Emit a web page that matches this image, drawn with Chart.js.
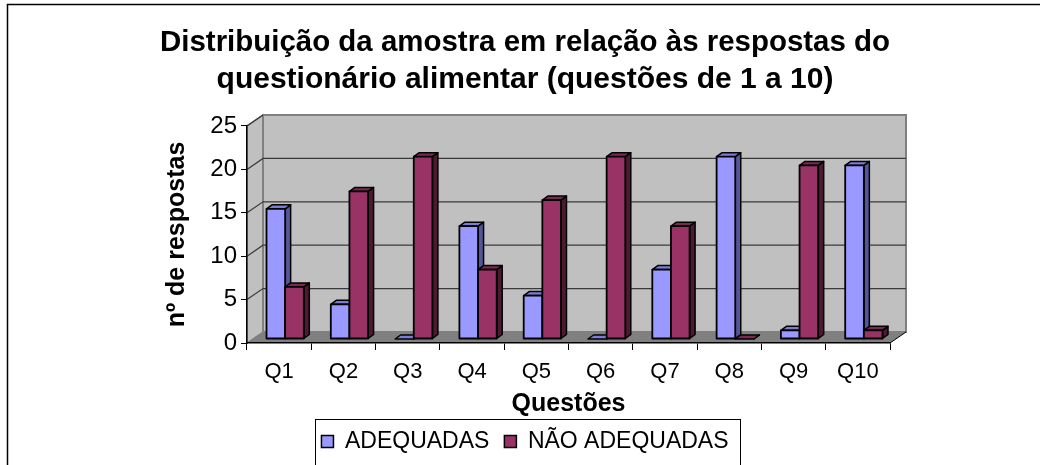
<!DOCTYPE html>
<html>
<head>
<meta charset="utf-8">
<script src="https://cdn.jsdelivr.net/npm/chart.js@4"></script>
<style>
  html, body { margin: 0; padding: 0; background: #fff; }
  #wrap { width: 1040px; height: 465px; }
</style>
</head>
<body>
<div id="wrap"><canvas id="myChart" width="1040" height="465"></canvas></div>
<script>
// chart data
var questions = ['Q1', 'Q2', 'Q3', 'Q4', 'Q5', 'Q6', 'Q7', 'Q8', 'Q9', 'Q10'];
var adequadas = [15, 4, 0, 13, 5, 0, 8, 21, 1, 20];
var naoAdequadas = [6, 17, 21, 8, 16, 21, 13, 0, 20, 1];
var yTicks = [0, 5, 10, 15, 20, 25];

var seriesNames = ['ADEQUADAS', 'NÃO ADEQUADAS'];
var frontColors = ['#9999FF', '#993366'];
var sideColors = ['#555599', '#4D1A33'];
var topColors = ['#7C7CD6', '#7A2952'];

// depth of the walls and of the bars (3D look)
var wallDX = 16, wallDY = -11;
var barShiftX = 6, barShiftY = -4;
var barDX = 5.5, barDY = -4;

function poly(ctx, pts, fill, stroke, lw) {
    ctx.beginPath();
    ctx.moveTo(pts[0][0], pts[0][1]);
    for (var i = 1; i < pts.length; i++) ctx.lineTo(pts[i][0], pts[i][1]);
    ctx.closePath();
    if (fill) { ctx.fillStyle = fill; ctx.fill(); }
    if (stroke) { ctx.strokeStyle = stroke; ctx.lineWidth = lw || 1; ctx.stroke(); }
}

var wallsPlugin = {
    id: 'walls',
    beforeDraw: function (chart) {
        var ctx = chart.ctx;
        var a = chart.chartArea;
        var yScale = chart.scales.y;
        ctx.save();
        ctx.fillStyle = '#fff';
        ctx.fillRect(0, 0, chart.width, chart.height);

        // outer frame
        ctx.strokeStyle = '#000';
        ctx.lineWidth = 1.5;
        ctx.strokeRect(7.5, 4.5, chart.width + 20, chart.height + 20);

        // left wall
        poly(ctx, [[a.left, a.top], [a.left + wallDX, a.top + wallDY], [a.left + wallDX, a.bottom + wallDY], [a.left, a.bottom]], '#C0C0C0', '#808080', 1.5);
        // back wall
        poly(ctx, [[a.left + wallDX, a.top + wallDY], [a.right + wallDX, a.top + wallDY], [a.right + wallDX, a.bottom + wallDY], [a.left + wallDX, a.bottom + wallDY]], '#C0C0C0', '#808080', 2);
        // floor
        poly(ctx, [[a.left, a.bottom], [a.right, a.bottom], [a.right + wallDX, a.bottom + wallDY], [a.left + wallDX, a.bottom + wallDY]], '#808080', null);

        // grid lines on left and back walls
        ctx.strokeStyle = '#3A3A3A';
        ctx.lineWidth = 1.2;
        yTicks.forEach(function (v) {
            if (v === 0) return;
            var y = yScale.getPixelForValue(v);
            ctx.beginPath();
            ctx.moveTo(a.left, y);
            ctx.lineTo(a.left + wallDX, y + wallDY);
            if (v !== yTicks[yTicks.length - 1]) ctx.lineTo(a.right + wallDX, y + wallDY);
            ctx.stroke();
        });
        // right edge of the floor
        ctx.strokeStyle = '#000';
        ctx.lineWidth = 1;
        ctx.beginPath();
        ctx.moveTo(a.right, a.bottom);
        ctx.lineTo(a.right + wallDX, a.bottom + wallDY);
        ctx.stroke();
        ctx.restore();
    },
    beforeDatasetsDraw: function (chart) {
        chart.ctx.save();
        chart.ctx.translate(barShiftX, barShiftY);
    },
    afterDatasetsDraw: function (chart) {
        var ctx = chart.ctx;
        ctx.lineJoin = 'round';
        chart.data.datasets.forEach(function (ds, di) {
            var meta = chart.getDatasetMeta(di);
            meta.data.forEach(function (bar) {
                var p = bar.getProps(['x', 'y', 'base', 'width'], true);
                var l = p.x - p.width / 2, r = p.x + p.width / 2;
                // side face
                poly(ctx, [[r, p.y], [r + barDX, p.y + barDY], [r + barDX, p.base + barDY], [r, p.base]], sideColors[di], '#000', 1.5);
                // top face
                poly(ctx, [[l, p.y], [l + barDX, p.y + barDY], [r + barDX, p.y + barDY], [r, p.y]], topColors[di], '#000', 1.5);
                // front face
                if (p.base - p.y > 0.5) {
                    poly(ctx, [[l, p.y], [r, p.y], [r, p.base], [l, p.base]], frontColors[di], '#000', 1.8);
                }
            });
        });
        ctx.restore();
    },
    afterDraw: function (chart) {
        // border around the legend
        var lg = chart.legend;
        var boxes = lg.legendHitBoxes;
        if (!boxes || !boxes.length) return;
        var first = boxes[0], last = boxes[boxes.length - 1];
        var ctx = chart.ctx;
        ctx.save();
        ctx.strokeStyle = '#000';
        ctx.lineWidth = 1;
        ctx.strokeRect(Math.round(first.left - 6) + 0.5, Math.round(first.top - 11) + 0.5,
            Math.round(last.left + last.width - first.left + 18), 80);
        ctx.restore();
    }
};

var ctx = document.getElementById('myChart').getContext('2d');
var myChart = new Chart(ctx, {
    type: 'bar',
    data: {
        labels: questions,
        datasets: [{
            label: seriesNames[0],
            data: adequadas,
            backgroundColor: frontColors[0],
            borderColor: '#000',
            borderWidth: 1.5,
            categoryPercentage: 0.58,
            barPercentage: 1.0
        }, {
            label: seriesNames[1],
            data: naoAdequadas,
            backgroundColor: frontColors[1],
            borderColor: '#000',
            borderWidth: 1.5,
            categoryPercentage: 0.58,
            barPercentage: 1.0
        }]
    },
    options: {
        responsive: false,
        animation: false,
        layout: {
            padding: { left: 160, right: 150, top: 0, bottom: 2 }
        },
        plugins: {
            title: {
                display: true,
                text: ['Distribuição da amostra em relação às respostas do', 'questionário alimentar (questões de 1 a 10)'],
                color: '#000',
                font: { family: 'Liberation Sans, Arial, sans-serif', size: 30, weight: 'bold', lineHeight: 1.233 },
                padding: { top: 24, bottom: 28 }
            },
            legend: {
                position: 'bottom',
                labels: {
                    color: '#000',
                    font: { family: 'Liberation Sans, Arial, sans-serif', size: 23 },
                    boxWidth: 12,
                    boxHeight: 12,
                    padding: 15
                }
            },
            tooltip: { enabled: false }
        },
        scales: {
            x: {
                grid: { color: 'rgba(0,0,0,0)', tickColor: '#000', tickLength: 7, offset: true },
                border: { color: '#000', width: 1.5 },
                ticks: {
                    color: '#000',
                    padding: 9,
                    maxRotation: 0,
                    font: { family: 'Liberation Sans, Arial, sans-serif', size: 22 }
                },
                title: {
                    display: true,
                    text: 'Questões',
                    color: '#000',
                    font: { family: 'Liberation Sans, Arial, sans-serif', size: 25, weight: 'bold', lineHeight: 0.88 },
                    padding: 0
                },
                afterFit: function (scale) { scale.height = 72; }
            },
            y: {
                min: 0,
                max: 25,
                grid: { color: 'rgba(0,0,0,0)', tickColor: '#000', tickLength: 6 },
                border: { color: '#000', width: 1.5 },
                ticks: {
                    stepSize: 5,
                    color: '#000',
                    padding: 4,
                    font: { family: 'Liberation Sans, Arial, sans-serif', size: 24 }
                },
                title: {
                    display: true,
                    text: 'nº de respostas',
                    color: '#000',
                    font: { family: 'Liberation Sans, Arial, sans-serif', size: 25, weight: 'bold' },
                    padding: { top: 2, bottom: 0 }
                },
                afterFit: function (scale) { scale.width = 87; }
            }
        }
    },
    plugins: [wallsPlugin]
});
</script>
</body>
</html>
